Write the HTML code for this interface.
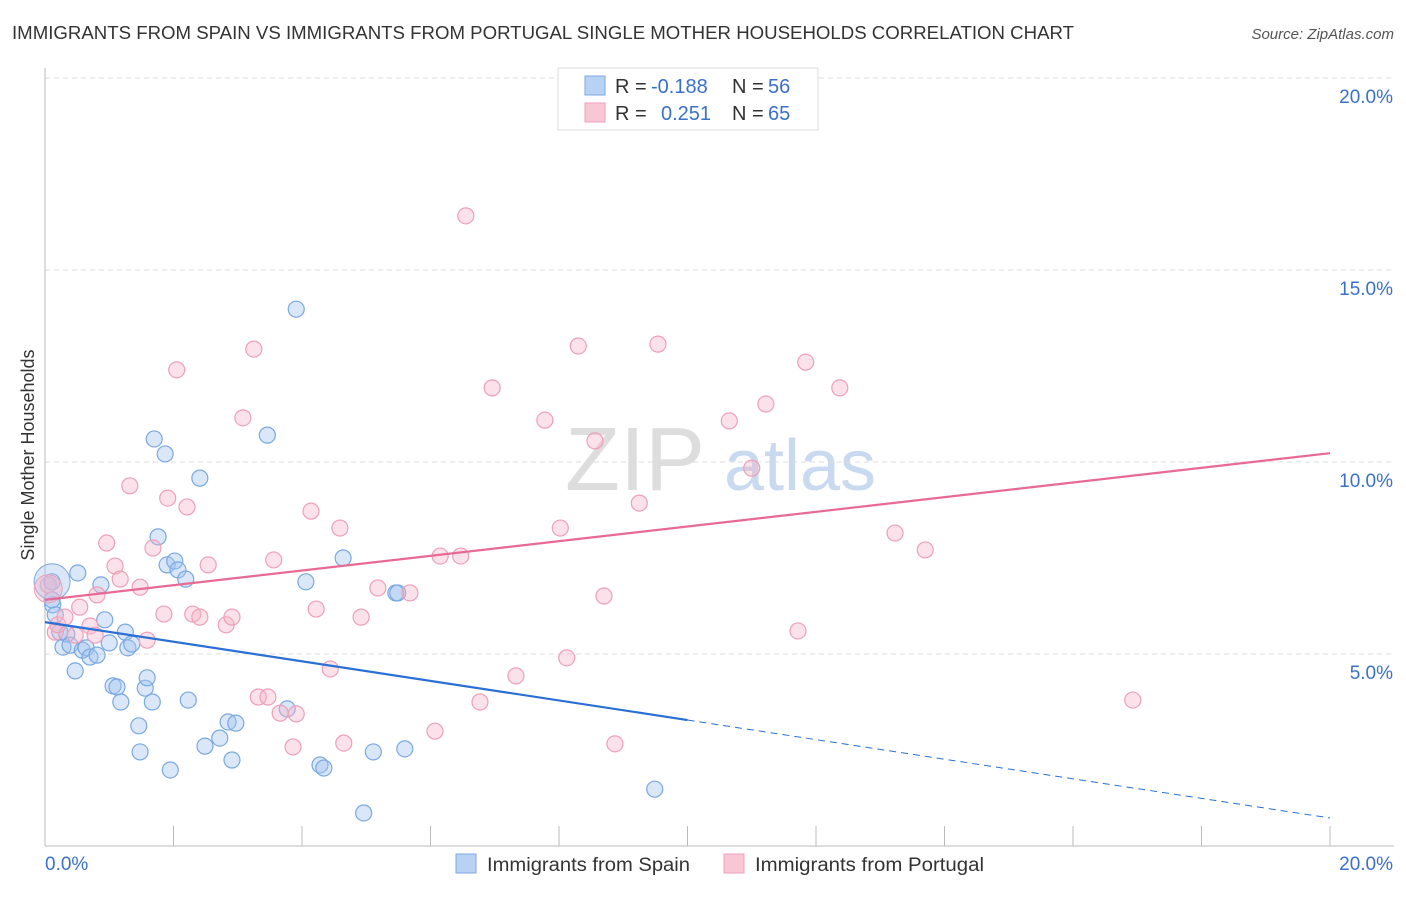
<!DOCTYPE html>
<html><head><meta charset="utf-8"><style>
body{margin:0;background:#fff;font-family:"Liberation Sans",sans-serif;}
svg text{font-family:"Liberation Sans",sans-serif;}
</style></head><body>
<svg id="chart" width="1406" height="892">
<text x="12" y="39" font-size="18" fill="#333" textLength="1062" lengthAdjust="spacingAndGlyphs">IMMIGRANTS FROM SPAIN VS IMMIGRANTS FROM PORTUGAL SINGLE MOTHER HOUSEHOLDS CORRELATION CHART</text>
<text x="1394" y="39" font-size="15" fill="#555" font-style="italic" text-anchor="end">Source: ZipAtlas.com</text>
<text transform="translate(34,455) rotate(-90)" font-size="18" fill="#333" text-anchor="middle">Single Mother Households</text>
<g><text x="635" y="490" font-size="90" fill="#ddd" font-family="Liberation Serif,serif" text-anchor="middle">ZIP</text><text x="800" y="490" font-size="72" fill="#c8d9f0" text-anchor="middle">atlas</text></g>
<g id="grid"></g><g id="marks"></g>
<g>
<rect x="558" y="68" width="260" height="62" fill="#fff" stroke="#ddd"/>
<rect x="585" y="76" width="20" height="19" fill="#b8d2f4" stroke="#7aa8e0"/>
<rect x="585" y="103" width="20" height="19" fill="#f9c6d5" stroke="#eea0b8"/>
<text x="615" y="93" font-size="20" fill="#333">R = <tspan x="651" fill="#3a70cc">-0.188</tspan><tspan x="732">N = </tspan><tspan x="768" fill="#3a70cc">56</tspan></text>
<text x="615" y="120" font-size="20" fill="#333">R = <tspan x="661" fill="#3a70cc">0.251</tspan><tspan x="732">N = </tspan><tspan x="768" fill="#3a70cc">65</tspan></text>
</g>
<g>
<rect x="456" y="854" width="20" height="19" fill="#b8d2f4" stroke="#7aa8e0"/>
<text x="487" y="871" font-size="19" fill="#333" textLength="203" lengthAdjust="spacingAndGlyphs">Immigrants from Spain</text>
<rect x="724" y="854" width="20" height="19" fill="#f9c6d5" stroke="#eea0b8"/>
<text x="755" y="871" font-size="19" fill="#333" textLength="229" lengthAdjust="spacingAndGlyphs">Immigrants from Portugal</text>
</g>
</svg>
<script>
const blueX=[0.11,0.12,0.16,0.23,0.28,0.34,0.39,0.47,0.51,0.58,0.64,0.70,0.81,0.87,0.93,1.0,1.06,1.12,1.18,1.25,1.29,1.35,1.46,1.48,1.56,1.59,1.67,1.70,1.76,1.87,1.90,1.95,2.02,2.07,2.19,2.23,2.41,2.49,2.72,2.85,2.91,2.97,3.46,3.77,3.91,4.06,4.28,4.34,4.64,4.96,5.11,5.46,5.49,5.60,9.49,0.11];
const blueY=[6.88,6.28,6.02,5.57,5.18,5.52,5.23,4.56,7.11,5.10,5.16,4.92,4.97,6.80,5.89,5.29,4.17,4.14,3.75,5.57,5.16,5.26,3.13,2.45,4.11,4.38,3.75,10.60,8.05,10.21,7.32,1.98,7.42,7.19,6.95,3.80,9.58,2.60,2.81,3.23,2.24,3.20,10.70,3.57,13.98,6.88,2.11,2.03,7.50,0.86,2.45,6.59,6.59,2.53,1.48,6.41];
const pinkX=[0.05,0.16,0.20,0.31,0.47,0.54,0.70,0.78,0.81,0.96,1.09,1.17,1.32,1.48,1.59,1.68,1.85,1.91,2.05,2.21,2.30,2.41,2.54,2.82,2.91,3.08,3.25,3.32,3.47,3.56,3.66,3.86,3.91,4.14,4.22,4.44,4.59,4.65,4.92,5.18,5.68,6.07,6.15,6.47,6.55,6.77,6.96,7.33,7.78,8.02,8.12,8.30,8.56,8.70,8.87,9.25,9.54,10.65,11.00,11.22,11.72,11.84,12.37,13.23,13.70,16.93];
const pinkY=[6.80,5.57,5.76,5.96,5.49,6.22,5.73,5.49,6.54,7.89,7.29,6.95,9.38,6.74,5.36,7.76,6.04,9.06,12.40,8.83,6.04,5.96,7.32,5.76,5.96,11.15,12.94,3.88,3.88,7.45,3.46,2.58,3.44,8.72,6.17,4.61,8.28,2.68,5.96,6.72,6.59,2.99,7.55,7.55,16.41,3.75,11.93,4.43,11.09,8.28,4.90,13.02,10.55,6.51,2.66,8.93,13.07,11.07,9.84,11.51,5.60,12.60,11.93,8.15,7.71,3.80];
const blueBig=[0.11,6.88], pinkBig=[0.05,6.70];
const blueTrend=[5.83,-0.255], pinkTrend=[6.41,0.191];
const yTicks=[5,10,15,20];
const xTicks=[0,2,4,6,8,10,12,14,16,18,20];
const NS='http://www.w3.org/2000/svg';
const sx=v=>45+v*64.25, sy=v=>846-v*38.4;
function mk(p,t,a){const e=document.createElementNS(NS,t);for(const k in a)e.setAttribute(k,a[k]);p.appendChild(e);return e;}
const g=document.getElementById('grid'), m=document.getElementById('marks');
yTicks.forEach(v=>{const l=mk(g,'line',{x1:45,x2:1394,y1:sy(v),y2:sy(v),stroke:'#ddd','stroke-dasharray':'5,4'});


const t=mk(g,'text',{x:1393,y:sy(v)+25,'font-size':19,fill:'#3a70cc','text-anchor':'end'});t.textContent=v.toFixed(1)+'%';

});
mk(g,'line',{x1:45,x2:45,y1:68,y2:846,stroke:'#bbb'});
mk(g,'line',{x1:45,x2:1394,y1:846,y2:846,stroke:'#bbb'});
xTicks.forEach(v=>{const l=mk(g,'line',{x1:sx(v),x2:sx(v),y1:826,y2:846,stroke:'#bbb'});

});
[[0,45,'start'],[20,1393,'end']].forEach(([v,x,a])=>{const t=mk(g,'text',{x:x,y:870,'font-size':19,fill:'#3a70cc','text-anchor':a});t.textContent=v.toFixed(1)+'%';

});
function pts(X,Y,f,s,name){X.forEach((x,i)=>{const c=mk(m,'circle',{cx:sx(x),cy:sy(Y[i]),r:8,fill:f,stroke:s,'stroke-width':1.2});

});}
pts(blueX,blueY,'rgba(160,196,240,0.4)','#7aa8e0','spain-point');
pts(pinkX,pinkY,'rgba(245,180,200,0.4)','#eea0b8','portugal-point');
const b1=mk(m,'circle',{cx:sx(blueBig[0]),cy:sy(blueBig[1]),r:18,fill:'rgba(160,196,240,0.4)',stroke:'#7aa8e0'});


const b2=mk(m,'circle',{cx:sx(pinkBig[0]),cy:sy(pinkBig[1]),r:14,fill:'rgba(245,180,200,0.4)',stroke:'#eea0b8'});


const bt=v=>blueTrend[0]+blueTrend[1]*v, pt=v=>pinkTrend[0]+pinkTrend[1]*v;
const l1=mk(m,'line',{x1:sx(0),y1:sy(bt(0)),x2:sx(10),y2:sy(bt(10)),stroke:'#2a6fd6','stroke-width':2.2});


const l2=mk(m,'line',{x1:sx(10),y1:sy(bt(10)),x2:sx(20),y2:sy(bt(20)),stroke:'#2a6fd6','stroke-width':1,'stroke-dasharray':'7,5'});


const l3=mk(m,'line',{x1:sx(0),y1:sy(pt(0)),x2:sx(20),y2:sy(pt(20)),stroke:'#e86a94','stroke-width':2.2});


</script>
</body></html>
